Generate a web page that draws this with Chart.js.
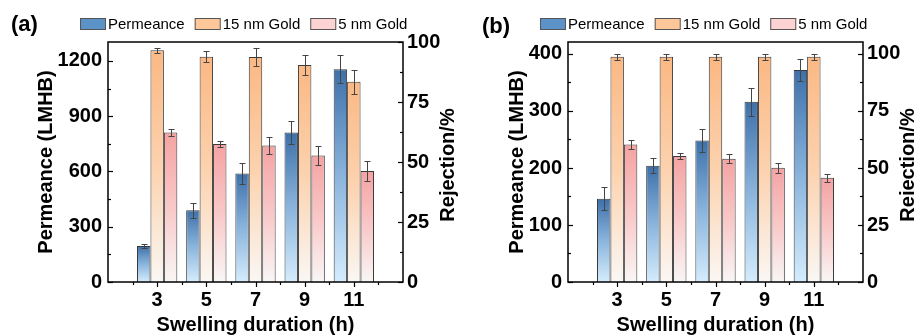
<!DOCTYPE html>
<html>
<head>
<meta charset="utf-8">
<script src="https://cdn.jsdelivr.net/npm/chart.js@4.4.0/dist/chart.umd.min.js"></script>
<style>
  html, body { margin: 0; padding: 0; background: #fff; }
  #wrap { position: relative; width: 914px; height: 335px; overflow: hidden; }
  canvas { position: absolute; top: 0; }
  #chartA { left: 0; }
  #chartB { left: 457px; }
</style>
</head>
<body>
<div id="wrap">
  <canvas id="chartA" width="462" height="335"></canvas>
  <canvas id="chartB" width="457" height="335"></canvas>
</div>
<script>
// ---- data ----
const hours = [3, 5, 7, 9, 11];
const seriesNames = ["Permeance", "15 nm Gold", "5 nm Gold"];
const rejTicks = [0, 25, 50, 75, 100];

// (a)
const permA = [195, 389, 589, 811, 1155];
const permErrA = [12, 40, 57, 63, 77];
const gold15A = [96.6, 93.9, 93.7, 90.4, 83.4];
const gold15ErrA = [1.0, 2.2, 3.6, 4.2, 4.9];
const gold5A = [62.3, 57.5, 56.9, 52.7, 46.2];
const gold5ErrA = [1.4, 1.3, 3.6, 4.0, 4.3];
const permTicksA = [0, 300, 600, 900, 1200];

// (b)
const permB = [146, 204, 248, 316, 372];
const permErrB = [20, 13, 20, 25, 20];
const gold15B = [98.8, 98.8, 98.8, 98.8, 98.8];
const gold15ErrB = [1.3, 1.3, 1.3, 1.3, 1.3];
const gold5B = [60.3, 55.3, 54.0, 50.1, 45.7];
const gold5ErrB = [1.8, 1.4, 2.0, 2.1, 1.8];
const permTicksB = [0, 100, 200, 300, 400];

Chart.defaults.font.family = '"Liberation Sans", Arial, sans-serif';
Chart.defaults.color = "#000";

// top, middle, bottom of each bar's fill
const BLUE = ["#3d70aa", "#8ab4dc", "#d4ecfd"];
const ORANGE = ["#fbb883", "#fcd2ae", "#faf7f4"];
const PINK = ["#f5a2a2", "#f9c8c8", "#f9f6f6"];
const legendFill = ["#5b92c7", "#fdc79a", "#fdd2d2"];

// per-bar vertical gradient, dark at the top
function barFill(cols) {
  return function (ctx) {
    if (ctx.type !== "data") return cols[0];
    const chart = ctx.chart;
    const ds = chart.data.datasets[ctx.datasetIndex];
    const ys = chart.scales[ds.yAxisID];
    if (!ys || !chart.chartArea) return cols[0];
    const y0 = ys.getPixelForValue(0);
    const y1 = ys.getPixelForValue(ctx.parsed.y);
    if (!isFinite(y0) || !isFinite(y1) || y0 === y1) return cols[0];
    const g = chart.ctx.createLinearGradient(0, y1, 0, y0);
    g.addColorStop(0, cols[0]);
    g.addColorStop(0.5, cols[1]);
    g.addColorStop(1, cols[2]);
    return g;
  };
}

function pts(vals) {
  return hours.map((h, i) => ({ x: h, y: vals[i] }));
}

const decor = {
  id: "decor",
  afterDatasetsDraw(chart, args, o) {
    const c = chart.ctx;
    c.save();
    // error bars
    c.strokeStyle = "#444";
    c.lineWidth = 1;
    chart.data.datasets.forEach((ds, i) => {
      const ys = chart.scales[ds.yAxisID];
      chart.getDatasetMeta(i).data.forEach((bar, j) => {
        const v = ds.data[j].y, e = ds.errors[j];
        const t = Math.round(ys.getPixelForValue(v + e)) + 0.5;
        const b = Math.round(ys.getPixelForValue(v - e)) + 0.5;
        const x = Math.round(bar.x) + 0.5;
        c.beginPath();
        c.moveTo(x, t); c.lineTo(x, b);
        c.moveTo(x - 3, t); c.lineTo(x + 3, t);
        c.moveTo(x - 3, b); c.lineTo(x + 3, b);
        c.stroke();
      });
    });
    c.restore();
  },
  afterDraw(chart, args, o) {
    const c = chart.ctx, a = chart.chartArea;
    c.save();
    // frame
    c.strokeStyle = "#000";
    c.lineWidth = 1.5;
    c.strokeRect(a.left, a.top, a.right - a.left, a.bottom - a.top);
    c.lineWidth = 1.2;
    // y tick marks, pointing inwards
    const yTicks = (scale, labels, x, dir) => {
      const minor = (labels[1] - labels[0]) / 2;
      for (let v = 0; v <= scale.max + 1e-9; v += minor) {
        const y = Math.round(scale.getPixelForValue(v)) + 0.5;
        const len = labels.includes(v) ? 5 : 3;
        c.beginPath(); c.moveTo(x, y); c.lineTo(x + dir * len, y); c.stroke();
      }
    };
    yTicks(chart.scales.y, o.leftLabels, a.left, 1);
    yTicks(chart.scales.y1, rejTicks, a.right, -1);
    // x tick marks, pointing outwards
    const xs = chart.scales.x;
    for (let v = 2; v <= 12; v++) {
      const x = Math.round(xs.getPixelForValue(v)) + 0.5;
      const len = hours.includes(v) ? 5 : 3;
      c.beginPath(); c.moveTo(x, a.bottom); c.lineTo(x, a.bottom + len); c.stroke();
    }
    // right axis title
    c.font = 'bold 20px "Liberation Sans", Arial, sans-serif';
    c.fillStyle = "#000";
    c.textAlign = "center";
    c.textBaseline = "middle";
    c.translate(a.right + 45, (a.top + a.bottom) / 2 + 3);
    c.rotate(-Math.PI / 2);
    c.fillText("Rejection/%", 0, 0);
    c.setTransform(1, 0, 0, 1, 0, 0);
    // panel label
    c.font = 'bold 22px "Liberation Sans", Arial, sans-serif';
    c.textAlign = "left";
    c.fillText(o.panel, o.panelX, o.panelY);
    // legend
    c.font = '15px "Liberation Sans", Arial, sans-serif';
    let x = a.left - 28;
    const yc = 24;
    seriesNames.forEach((name, i) => {
      c.fillStyle = legendFill[i];
      c.fillRect(x, yc - 6, 26, 12);
      c.strokeStyle = "#555";
      c.lineWidth = 1;
      c.strokeRect(x + 0.5, yc - 5.5, 25, 11);
      c.fillStyle = "#000";
      c.fillText(name, x + 28, yc + 1);
      x += 28 + c.measureText(name).width + 10;
    });
    c.restore();
  }
};

function makePanel(id, cfg) {
  const titleFont = { size: 20, weight: "bold", lineHeight: 1 };
  const tickFont = { size: 20, weight: "bold" };
  return new Chart(document.getElementById(id), {
    type: "bar",
    data: {
      datasets: [
        { label: seriesNames[0], data: pts(cfg.perm), errors: cfg.permErr, yAxisID: "y",
          backgroundColor: barFill(BLUE), borderColor: "#3a3a3a", borderWidth: 1 },
        { label: seriesNames[1], data: pts(cfg.g15), errors: cfg.g15Err, yAxisID: "y1",
          backgroundColor: barFill(ORANGE), borderColor: "#3a3a3a", borderWidth: 1 },
        { label: seriesNames[2], data: pts(cfg.g5), errors: cfg.g5Err, yAxisID: "y1",
          backgroundColor: barFill(PINK), borderColor: "#3a3a3a", borderWidth: 1 },
      ],
    },
    options: {
      responsive: false,
      animation: false,
      barPercentage: 1,
      categoryPercentage: 0.82,
      layout: { padding: { top: 42, left: 0, right: 0, bottom: 0 } },
      plugins: {
        legend: { display: false },
        tooltip: { enabled: false },
        decor: { panel: cfg.panel, panelX: cfg.panelX, panelY: cfg.panelY, leftLabels: cfg.leftLabels },
      },
      scales: {
        x: {
          type: "linear", min: 1, max: 13, offset: false,
          ticks: { stepSize: 2, autoSkip: false, maxRotation: 0, padding: 6, font: tickFont,
            callback: (v) => (hours.includes(v) ? String(v) : "") },
          grid: { display: false, drawTicks: false },
          border: { display: false },
          title: { display: true, text: "Swelling duration (h)", font: titleFont, padding: { top: 0, bottom: 0 } },
          afterFit(s) { s.height = 53; },
        },
        y: {
          type: "linear", position: "left", min: 0, max: cfg.leftMax,
          ticks: { autoSkip: false, padding: 6, font: tickFont, callback: (v) => String(v) },
          afterBuildTicks(s) { s.ticks = cfg.leftLabels.map((v) => ({ value: v })); },
          grid: { display: false, drawTicks: false },
          border: { display: false },
          title: { display: true, text: "Permeance (LMHB)", font: titleFont, padding: { top: cfg.titlePad, bottom: 0 } },
          afterFit(s) { s.width = cfg.left; },
        },
        y1: {
          type: "linear", position: "right", min: 0, max: cfg.rightMax,
          ticks: { autoSkip: false, padding: 4, font: tickFont, callback: (v) => String(v) },
          afterBuildTicks(s) { s.ticks = rejTicks.map((v) => ({ value: v })); },
          grid: { display: false, drawTicks: false },
          border: { display: false },
          afterFit(s) { s.width = cfg.right; },
        },
      },
    },
    plugins: [decor],
  });
}

makePanel("chartA", {
  perm: permA, permErr: permErrA, g15: gold15A, g15Err: gold15ErrA, g5: gold5A, g5Err: gold5ErrA,
  leftLabels: permTicksA, leftMax: 1303, rightMax: 100,
  left: 108, right: 59, titlePad: 36, panel: "(a)", panelX: 11, panelY: 25,
});

makePanel("chartB", {
  perm: permB, permErr: permErrB, g15: gold15B, g15Err: gold15ErrB, g5: gold5B, g5Err: gold5ErrB,
  leftLabels: permTicksB, leftMax: 421, rightMax: 105.25,
  left: 111, right: 51, titlePad: 50, panel: "(b)", panelX: 25, panelY: 27,
});
</script>
</body>
</html>
